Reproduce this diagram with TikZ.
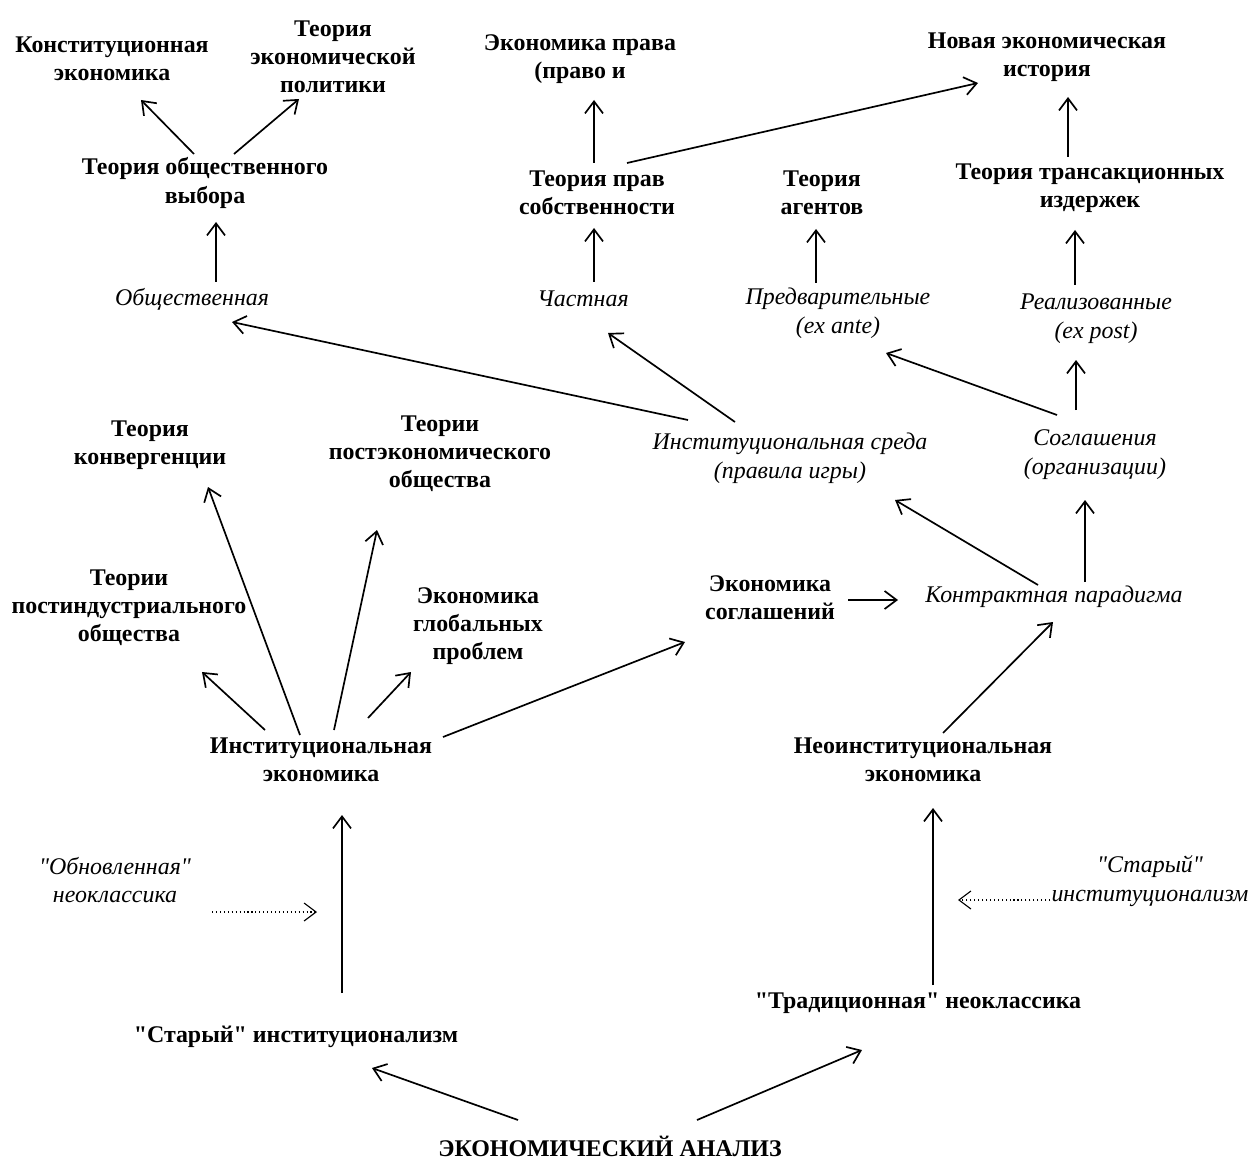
\documentclass[tikz,border=0pt]{standalone}
\usepackage{fontspec}
\setmainfont[Ligatures=TeXOff]{Liberation Serif}
\usetikzlibrary{arrows.meta}

\begin{document}
\begin{tikzpicture}[
  x=0.025cm, y=-0.025cm,
  theory/.style={font=\bfseries\fontsize{17}{20}\selectfont, align=center, inner sep=0pt},
  branch/.style={font=\itshape\fontsize{17}{20.5}\selectfont, align=center, inner sep=0pt},
  arr/.style={-{Straight Barb[length=3mm,width=4.5mm]}, line width=1.2pt},
  dots/.style={-{Straight Barb[length=3mm,width=4.5mm]}, dotted, line width=0.8pt}
]
\useasboundingbox (0,0) rectangle (1253,1161);
\node[theory] (konst) at (112,59) {Конституционная\\экономика};
\node[theory] (tep) at (333,57) {Теория\\экономической\\политики};
\node[theory] (tov) at (205,183) {Теория общественного\\выбора};
\node[branch] (obsh) at (192,299) {Общественная};
\node[theory] (ekpr) at (580,59) {Экономика права\\(право и};
\node[theory] (tps) at (597,193) {Теория прав\\собственности};
\node[branch] (chast) at (583,299) {Частная};
\node[theory] (neh) at (1047,57) {Новая экономическая\\история};
\node[theory] (ta) at (822,193) {Теория\\агентов};
\node[theory] (tti) at (1090,188) {Теория трансакционных\\издержек};
\node[branch] (pred) at (838,313) {Предварительные\\(ex ante)};
\node[branch] (real) at (1096,319) {Реализованные\\(ex post)};
\node[branch] (isr) at (790,458) {Институциональная среда\\(правила игры)};
\node[branch] (sogl) at (1095,455) {Соглашения\\(организации)};
\node[theory] (tk) at (150,445) {Теория\\конвергенции};
\node[theory] (tpe) at (440,454) {Теории\\постэкономического\\общества};
\node[theory] (tpi) at (129,608) {Теории\\постиндустриального\\общества};
\node[theory] (egp) at (478,626) {Экономика\\глобальных\\проблем};
\node[theory] (es) at (770,598) {Экономика\\соглашений};
\node[branch] (kp) at (1054,597) {Контрактная парадигма};
\node[theory] (ie) at (321,760) {Институциональная\\экономика};
\node[theory] (nie) at (923,760) {Неоинституциональная\\экономика};
\node[branch] (on) at (115,880) {"Обновленная"\\неоклассика};
\node[branch] (sir) at (1150,881) {"Старый"\\институционализм};
\node[theory] (si) at (296,1037) {"Старый" институционализм};
\node[theory] (tn) at (918,1003) {"Традиционная" неоклассика};
\node[theory] (ea) at (610,1146) {ЭКОНОМИЧЕСКИЙ АНАЛИЗ};
\coordinate (oni) at (317,912);
\coordinate (siri) at (958,900);

\draw[arr] ([shift={(-11,-29)}]tov.center) -- ([shift={(29,41)}]konst.center);
\draw[arr] ([shift={(29,-29)}]tov.center) -- ([shift={(-34,42)}]tep.center);
\draw[arr] ([shift={(24,-17)}]obsh.center) -- ([shift={(11,39)}]tov.center);
\draw[arr] ([shift={(-3,-30)}]tps.center) -- ([shift={(14,41)}]ekpr.center);
\draw[arr] ([shift={(30,-30)}]tps.center) -- ([shift={(-69,26)}]neh.center);
\draw[arr] ([shift={(11,-17)}]chast.center) -- ([shift={(-3,35)}]tps.center);
\draw[arr] ([shift={(-22,-30)}]pred.center) -- ([shift={(-6,36)}]ta.center);
\draw[arr] ([shift={(-21,-34)}]real.center) -- ([shift={(-15,42)}]tti.center);
\draw[arr] ([shift={(-22,-31)}]tti.center) -- ([shift={(21,40)}]neh.center);
\draw[arr] ([shift={(-102,-38)}]isr.center) -- ([shift={(40,23)}]obsh.center);
\draw[arr] ([shift={(-55,-36)}]isr.center) -- ([shift={(25,34)}]chast.center);
\draw[arr] ([shift={(-38,-40)}]sogl.center) -- ([shift={(48,40)}]pred.center);
\draw[arr] ([shift={(-19,-45)}]sogl.center) -- ([shift={(-20,41)}]real.center);
\draw[arr] ([shift={(-16,-12)}]kp.center) -- ([shift={(105,42)}]isr.center);
\draw[arr] ([shift={(31,-15)}]kp.center) -- ([shift={(-10,45)}]sogl.center);
\draw[arr] ([shift={(78,2)}]es.center) -- ([shift={(-156,3)}]kp.center);
\draw[arr] ([shift={(122,-23)}]ie.center) -- ([shift={(-85,44)}]es.center);
\draw[arr] ([shift={(-56,-30)}]ie.center) -- ([shift={(73,64)}]tpi.center);
\draw[arr] ([shift={(-21,-25)}]ie.center) -- ([shift={(58,42)}]tk.center);
\draw[arr] ([shift={(13,-30)}]ie.center) -- ([shift={(-63,76)}]tpe.center);
\draw[arr] ([shift={(47,-42)}]ie.center) -- ([shift={(-67,46)}]egp.center);
\draw[arr] ([shift={(20,-27)}]nie.center) -- ([shift={(-1,25)}]kp.center);
\draw[arr] ([shift={(15,-18)}]tn.center) -- ([shift={(10,48)}]nie.center);
\draw[arr] ([shift={(46,-44)}]si.center) -- ([shift={(21,55)}]ie.center);
\draw[arr] ([shift={(-92,-26)}]ea.center) -- ([shift={(76,31)}]si.center);
\draw[arr] ([shift={(87,-26)}]ea.center) -- ([shift={(-56,47)}]tn.center);
\draw[dots] ([shift={(97,32)}]on.center) -- (oni);
\draw[dots] ([shift={(-100,19)}]sir.center) -- (siri);
\end{tikzpicture}
\end{document}
